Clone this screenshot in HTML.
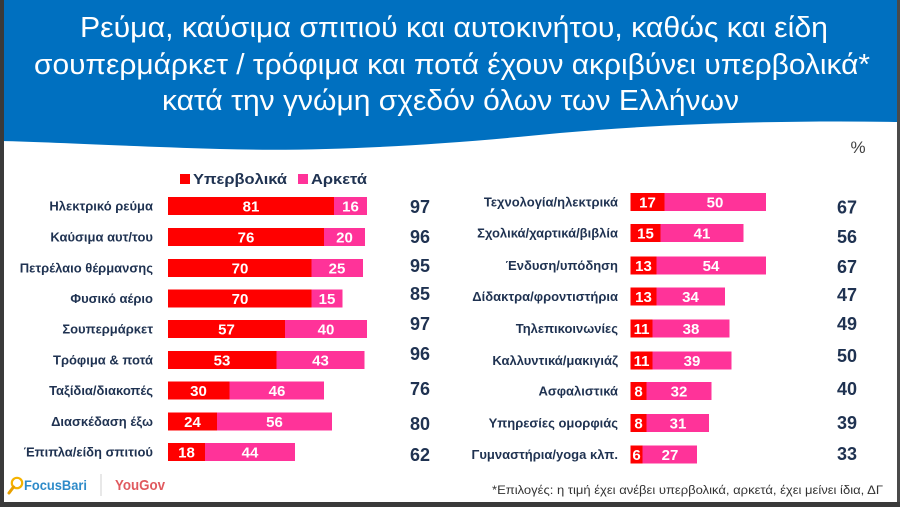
<!DOCTYPE html>
<html>
<head>
<meta charset="utf-8">
<style>
  html,body{margin:0;padding:0;background:#fff;}
  svg{display:block;}
  text{font-family:"Liberation Sans","DejaVu Sans",sans-serif;}
  .lbl{font-size:13px;font-weight:bold;fill:#1f3251;text-anchor:end;}
  .val{font-size:15px;font-weight:bold;fill:#fff;text-anchor:middle;}
  .tot{font-size:18px;font-weight:bold;fill:#1f3251;text-anchor:middle;}
  .ttl{font-size:29px;fill:#fff;text-anchor:start;}
</style>
</head>
<body>
<svg width="900" height="507" viewBox="0 0 900 507" xmlns="http://www.w3.org/2000/svg">
  <rect x="0" y="0" width="900" height="507" fill="#ffffff"/>
  <!-- header wave -->
  <path d="M0,0 H900 V122 C780,120 660,124 560,133 C430,146 320,152 220,149 C120,146 50,142 0,141 Z" fill="#0070c0"/>
  <text class="ttl" x="80" y="37" textLength="748" lengthAdjust="spacingAndGlyphs">Ρεύμα, καύσιμα σπιτιού και αυτοκινήτου, καθώς και είδη</text>
  <text class="ttl" x="34" y="74" textLength="836" lengthAdjust="spacingAndGlyphs">σουπερμάρκετ / τρόφιμα και ποτά έχουν ακριβύνει υπερβολικά*</text>
  <text class="ttl" x="162" y="110" textLength="577" lengthAdjust="spacingAndGlyphs">κατά την γνώμη σχεδόν όλων των Ελλήνων</text>

  <!-- percent -->
  <text x="858" y="153" font-size="17" fill="#404040" text-anchor="middle">%</text>

  <!-- legend -->
  <rect x="180" y="174" width="10" height="10" fill="#ff0000"/>
  <text x="193" y="184" font-size="15" font-weight="bold" fill="#1f3251" textLength="94" lengthAdjust="spacingAndGlyphs">Υπερβολικά</text>
  <rect x="298" y="174" width="10" height="10" fill="#ff3399"/>
  <text x="311" y="184" font-size="15" font-weight="bold" fill="#1f3251" textLength="56" lengthAdjust="spacingAndGlyphs">Αρκετά</text>

  <!-- LEFT PANEL: x0=168, 2.05 px/unit -->
  <g>
    <!-- row1 c=206 -->
    <text class="lbl" x="153" y="210.5">Ηλεκτρικό ρεύμα</text>
    <rect x="168" y="197" width="166" height="18" fill="#ff0000"/>
    <rect x="334" y="197" width="33" height="18" fill="#ff3399"/>
    <text class="val" x="251" y="211.5">81</text>
    <text class="val" x="350.5" y="211.5">16</text>
    <text class="tot" x="420" y="213">97</text>

    <!-- row2 c=237 -->
    <text class="lbl" x="153" y="241.5">Καύσιμα αυτ/του</text>
    <rect x="168" y="228" width="156" height="18" fill="#ff0000"/>
    <rect x="324" y="228" width="41" height="18" fill="#ff3399"/>
    <text class="val" x="246" y="242.5">76</text>
    <text class="val" x="344.5" y="242.5">20</text>
    <text class="tot" x="420" y="243">96</text>

    <!-- row3 c=268 -->
    <text class="lbl" x="153" y="272.5">Πετρέλαιο θέρμανσης</text>
    <rect x="168" y="259" width="143.5" height="18" fill="#ff0000"/>
    <rect x="311.5" y="259" width="51.5" height="18" fill="#ff3399"/>
    <text class="val" x="240" y="273.5">70</text>
    <text class="val" x="337" y="273.5">25</text>
    <text class="tot" x="420" y="272">95</text>

    <!-- row4 c=298.5 -->
    <text class="lbl" x="153" y="303">Φυσικό αέριο</text>
    <rect x="168" y="289.5" width="143.5" height="18" fill="#ff0000"/>
    <rect x="311.5" y="289.5" width="31" height="18" fill="#ff3399"/>
    <text class="val" x="240" y="304">70</text>
    <text class="val" x="327" y="304">15</text>
    <text class="tot" x="420" y="300">85</text>

    <!-- row5 c=329 -->
    <text class="lbl" x="153" y="333.5">Σουπερμάρκετ</text>
    <rect x="168" y="320" width="117" height="18" fill="#ff0000"/>
    <rect x="285" y="320" width="82" height="18" fill="#ff3399"/>
    <text class="val" x="226.5" y="334.5">57</text>
    <text class="val" x="326" y="334.5">40</text>
    <text class="tot" x="420" y="330">97</text>

    <!-- row6 c=360 -->
    <text class="lbl" x="153" y="364.5">Τρόφιμα &amp; ποτά</text>
    <rect x="168" y="351" width="108.5" height="18" fill="#ff0000"/>
    <rect x="276.5" y="351" width="88" height="18" fill="#ff3399"/>
    <text class="val" x="222" y="365.5">53</text>
    <text class="val" x="320.5" y="365.5">43</text>
    <text class="tot" x="420" y="360">96</text>

    <!-- row7 c=390.5 -->
    <text class="lbl" x="153" y="395">Ταξίδια/διακοπές</text>
    <rect x="168" y="381.5" width="61.5" height="18" fill="#ff0000"/>
    <rect x="229.5" y="381.5" width="94.5" height="18" fill="#ff3399"/>
    <text class="val" x="198.5" y="396">30</text>
    <text class="val" x="277" y="396">46</text>
    <text class="tot" x="420" y="395">76</text>

    <!-- row8 c=421.5 -->
    <text class="lbl" x="153" y="426">Διασκέδαση έξω</text>
    <rect x="168" y="412.5" width="49" height="18" fill="#ff0000"/>
    <rect x="217" y="412.5" width="115" height="18" fill="#ff3399"/>
    <text class="val" x="192.5" y="427">24</text>
    <text class="val" x="274.5" y="427">56</text>
    <text class="tot" x="420" y="430">80</text>

    <!-- row9 c=452 -->
    <text class="lbl" x="153" y="456.5">Έπιπλα/είδη σπιτιού</text>
    <rect x="168" y="443" width="37" height="18" fill="#ff0000"/>
    <rect x="205" y="443" width="90" height="18" fill="#ff3399"/>
    <text class="val" x="186.5" y="457.5">18</text>
    <text class="val" x="250" y="457.5">44</text>
    <text class="tot" x="420" y="461">62</text>
  </g>

  <!-- RIGHT PANEL: x0=630.5, 2.02 px/unit -->
  <g>
    <!-- row1 c=202 -->
    <text class="lbl" x="618" y="206.5">Τεχνολογία/ηλεκτρικά</text>
    <rect x="630.5" y="193" width="34" height="18" fill="#ff0000"/>
    <rect x="664.5" y="193" width="101.5" height="18" fill="#ff3399"/>
    <text class="val" x="647.5" y="207.5">17</text>
    <text class="val" x="715" y="207.5">50</text>
    <text class="tot" x="847" y="213.5">67</text>

    <!-- row2 c=233 -->
    <text class="lbl" x="618" y="237.5">Σχολικά/χαρτικά/βιβλία</text>
    <rect x="630.5" y="224" width="30" height="18" fill="#ff0000"/>
    <rect x="660.5" y="224" width="83" height="18" fill="#ff3399"/>
    <text class="val" x="645.5" y="238.5">15</text>
    <text class="val" x="702" y="238.5">41</text>
    <text class="tot" x="847" y="243">56</text>

    <!-- row3 c=265.5 -->
    <text class="lbl" x="618" y="270">Ένδυση/υπόδηση</text>
    <rect x="630.5" y="256.5" width="26" height="18" fill="#ff0000"/>
    <rect x="656.5" y="256.5" width="109.5" height="18" fill="#ff3399"/>
    <text class="val" x="643.5" y="271">13</text>
    <text class="val" x="711" y="271">54</text>
    <text class="tot" x="847" y="273">67</text>

    <!-- row4 c=296.5 -->
    <text class="lbl" x="618" y="301">Δίδακτρα/φροντιστήρια</text>
    <rect x="630.5" y="287.5" width="26" height="18" fill="#ff0000"/>
    <rect x="656.5" y="287.5" width="68.5" height="18" fill="#ff3399"/>
    <text class="val" x="643.5" y="302">13</text>
    <text class="val" x="690.5" y="302">34</text>
    <text class="tot" x="847" y="301">47</text>

    <!-- row5 c=328.5 -->
    <text class="lbl" x="618" y="333">Τηλεπικοινωνίες</text>
    <rect x="630.5" y="319.5" width="22" height="18" fill="#ff0000"/>
    <rect x="652.5" y="319.5" width="77" height="18" fill="#ff3399"/>
    <text class="val" x="641.5" y="334">11</text>
    <text class="val" x="691" y="334">38</text>
    <text class="tot" x="847" y="330">49</text>

    <!-- row6 c=360.5 -->
    <text class="lbl" x="618" y="365">Καλλυντικά/μακιγιάζ</text>
    <rect x="630.5" y="351.5" width="22" height="18" fill="#ff0000"/>
    <rect x="652.5" y="351.5" width="79" height="18" fill="#ff3399"/>
    <text class="val" x="641.5" y="366">11</text>
    <text class="val" x="692" y="366">39</text>
    <text class="tot" x="847" y="362">50</text>

    <!-- row7 c=391 -->
    <text class="lbl" x="618" y="395.5">Ασφαλιστικά</text>
    <rect x="630.5" y="382" width="16" height="18" fill="#ff0000"/>
    <rect x="646.5" y="382" width="65" height="18" fill="#ff3399"/>
    <text class="val" x="638.5" y="396.5">8</text>
    <text class="val" x="679" y="396.5">32</text>
    <text class="tot" x="847" y="395">40</text>

    <!-- row8 c=423 -->
    <text class="lbl" x="618" y="427.5">Υπηρεσίες ομορφιάς</text>
    <rect x="630.5" y="414" width="16" height="18" fill="#ff0000"/>
    <rect x="646.5" y="414" width="62.5" height="18" fill="#ff3399"/>
    <text class="val" x="638.5" y="428.5">8</text>
    <text class="val" x="678" y="428.5">31</text>
    <text class="tot" x="847" y="429">39</text>

    <!-- row9 c=454.5 -->
    <text class="lbl" x="618" y="459">Γυμναστήρια/yoga κλπ.</text>
    <rect x="630.5" y="445.5" width="12" height="18" fill="#ff0000"/>
    <rect x="642.5" y="445.5" width="54.5" height="18" fill="#ff3399"/>
    <text class="val" x="636.5" y="460">6</text>
    <text class="val" x="670" y="460">27</text>
    <text class="tot" x="847" y="460">33</text>
  </g>

  <!-- footer logos -->
  <circle cx="17" cy="483" r="5.2" fill="none" stroke="#f5b300" stroke-width="2.2"/>
  <line x1="13.5" y1="487" x2="9" y2="493" stroke="#e8a000" stroke-width="3" stroke-linecap="round"/>
  <text x="24" y="490" font-size="14" font-weight="bold" fill="#2e8bc9" textLength="63" lengthAdjust="spacingAndGlyphs">FocusBari</text>
  <line x1="101" y1="474" x2="101" y2="496" stroke="#d0d0d0" stroke-width="1"/>
  <text x="115" y="490" font-size="15" font-weight="bold" fill="#e05a5f" textLength="50" lengthAdjust="spacingAndGlyphs">YouGov</text>

  <!-- footnote -->
  <text x="492" y="494" font-size="12" fill="#333333" textLength="391" lengthAdjust="spacingAndGlyphs">*Επιλογές: η τιμή έχει ανέβει υπερβολικά, αρκετά, έχει μείνει ίδια, ΔΓ</text>

  <!-- frame -->
  <rect x="0" y="0" width="4" height="507" fill="#3a3a3a"/>
  <rect x="897" y="0" width="3" height="507" fill="#4a4a4a"/>
  <rect x="0" y="502" width="900" height="5" fill="#3a3a3a"/>
</svg>
</body>
</html>
